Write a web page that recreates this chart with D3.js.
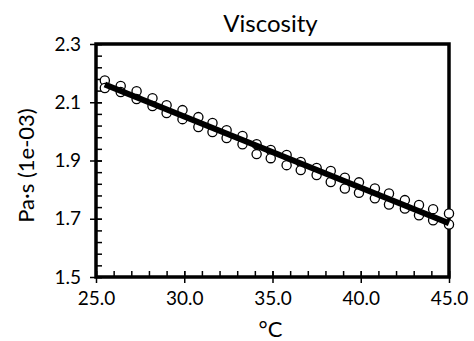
<!DOCTYPE html>
<html>
<head>
<meta charset="utf-8">
<script src="https://cdn.jsdelivr.net/npm/d3@7"></script>
<style>
  body { margin: 0; background: #fff; }
  text { font-family: Lato, "Open Sans", sans-serif; fill: #000; }
</style>
</head>
<body>
<svg id="chart" width="474" height="341"></svg>
<script>
// temperature (°C) of each measurement pair
const temps = [25.5, 26.4, 27.3, 28.2, 29.0, 29.9, 30.8, 31.6, 32.4, 33.3, 34.1, 34.9,
  35.8, 36.6, 37.5, 38.3, 39.1, 39.9, 40.8, 41.6, 42.5, 43.3, 44.1, 45.0];
// two readings per temperature, Pa·s (1e-03)
const visc1 = [2.175, 2.156, 2.138, 2.114, 2.090, 2.073, 2.049, 2.029, 2.004, 1.984, 1.956, 1.936,
  1.919, 1.895, 1.874, 1.864, 1.841, 1.825, 1.804, 1.787, 1.764, 1.747, 1.733, 1.718];
const visc2 = [2.149, 2.135, 2.111, 2.087, 2.063, 2.042, 2.015, 1.998, 1.977, 1.956, 1.922, 1.908,
  1.884, 1.867, 1.850, 1.826, 1.804, 1.789, 1.770, 1.749, 1.735, 1.712, 1.695, 1.680];
const xTicks = [25, 30, 35, 40, 45];
const yTicks = [1.5, 1.7, 1.9, 2.1, 2.3];

const svg = d3.select('#chart');
const pLeft = 96, pRight = 449, pTop = 44, pBottom = 277;

const x = d3.scaleLinear().domain([25, 45]).range([pLeft, pRight]);
const y = d3.scaleLinear().domain([1.5, 2.3]).range([pBottom, pTop]);

const points = [];
temps.forEach((t, i) => {
  points.push({ t: t, v: visc1[i] });
  points.push({ t: t, v: visc2[i] });
});

// least squares trend line
const mx = d3.mean(points, (d) => d.t);
const my = d3.mean(points, (d) => d.v);
const slope = d3.sum(points, (d) => (d.t - mx) * (d.v - my)) /
  d3.sum(points, (d) => (d.t - mx) * (d.t - mx));
const fit = (t) => my + slope * (t - mx);

// minor ticks (inside)
const g = svg.append('g');
g.append('g')
  .attr('transform', `translate(0,${pBottom})`)
  .call(d3.axisBottom(x).tickValues(d3.range(25, 45.01, 1)).tickSize(-6).tickFormat(''))
  .call((s) => s.select('.domain').remove())
  .selectAll('line').attr('stroke-width', 1.5);
g.append('g')
  .attr('transform', `translate(${pLeft},0)`)
  .call(d3.axisLeft(y).tickValues(d3.range(0, 21).map((i) => 1.5 + i * 0.04)).tickSize(-6).tickFormat(''))
  .call((s) => s.select('.domain').remove())
  .selectAll('line').attr('stroke-width', 1.5);

// major ticks (cross)
const xAxis = g.append('g')
  .attr('transform', `translate(0,${pBottom})`)
  .call(d3.axisBottom(x).tickValues(xTicks).tickSize(6).tickPadding(9).tickFormat(d3.format('.1f')));
xAxis.select('.domain').remove();
xAxis.selectAll('line').attr('y1', -6).attr('stroke-width', 1.5);
xAxis.selectAll('text').attr('font-size', 19).attr('font-family', 'Lato, sans-serif');

const yAxis = g.append('g')
  .attr('transform', `translate(${pLeft},0)`)
  .call(d3.axisLeft(y).tickValues(yTicks).tickSize(6).tickPadding(9).tickFormat(d3.format('.1f')));
yAxis.select('.domain').remove();
yAxis.selectAll('line').attr('x1', 6).attr('stroke-width', 1.5);
yAxis.selectAll('text').attr('font-size', 19).attr('font-family', 'Lato, sans-serif');

// frame
svg.append('rect')
  .attr('x', pLeft).attr('y', pTop)
  .attr('width', pRight - pLeft).attr('height', pBottom - pTop)
  .attr('fill', 'none').attr('stroke', '#000').attr('stroke-width', 3.5);

// data points
svg.append('g')
  .selectAll('circle')
  .data(points)
  .join('circle')
  .attr('cx', (d) => x(d.t))
  .attr('cy', (d) => y(d.v))
  .attr('r', 4.6)
  .attr('fill', '#fff')
  .attr('stroke', '#000')
  .attr('stroke-width', 1.3);

// trend line
const t0 = d3.min(temps), t1 = d3.max(temps);
svg.append('path')
  .datum([t0, t1])
  .attr('d', d3.line().x((t) => x(t)).y((t) => y(fit(t))))
  .attr('stroke', '#000')
  .attr('stroke-width', 6)
  .attr('fill', 'none');

// titles
svg.append('text')
  .attr('x', (pLeft + pRight) / 2 - 2).attr('y', 32)
  .attr('text-anchor', 'middle')
  .attr('font-size', 24)
  .text('Viscosity');

svg.append('text')
  .attr('x', (pLeft + pRight) / 2 - 2).attr('y', 337)
  .attr('text-anchor', 'middle')
  .attr('font-size', 22)
  .text('°C');

svg.append('text')
  .attr('transform', `translate(34,${(pTop + pBottom) / 2 + 5}) rotate(-90)`)
  .attr('text-anchor', 'middle')
  .attr('font-size', 22)
  .text('Pa·s (1e-03)');
</script>
</body>
</html>
